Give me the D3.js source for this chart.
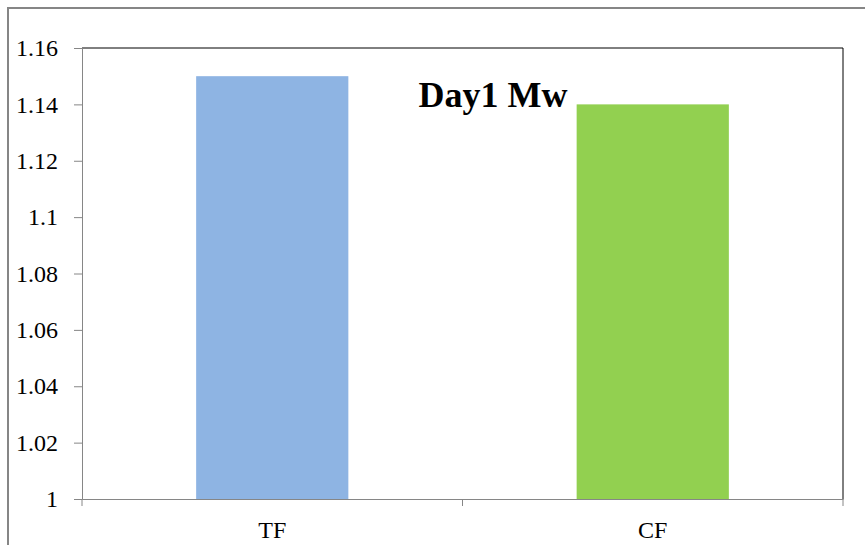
<!DOCTYPE html>
<html>
<head>
<meta charset="utf-8">
<script src="https://cdn.jsdelivr.net/npm/d3@7.9.0/dist/d3.min.js"></script>
<style>
  body { margin: 0; background: #fff; }
  svg text { font-family: "Liberation Serif", "Times New Roman", serif; }
</style>
</head>
<body>
<svg id="chart" width="865" height="545"></svg>
<script>
const categories = ['TF', 'CF'];
const values = [1.15, 1.14];
const barColors = ['#8EB4E3', '#92D050'];
const yTicks = [1, 1.02, 1.04, 1.06, 1.08, 1.1, 1.12, 1.14, 1.16];
const title = 'Day1 Mw';

const svg = d3.select('#chart');
const plotL = 82, plotR = 843, plotT = 48, plotB = 499;

// outer chart frame
svg.append('rect')
  .attr('x', 8).attr('y', 8)
  .attr('width', 870).attr('height', 560)
  .attr('fill', '#fff')
  .attr('stroke', '#868686')
  .attr('stroke-width', 2);

const x = d3.scaleBand().domain(categories).range([plotL, plotR]).paddingInner(0).paddingOuter(0);
const y = d3.scaleLinear().domain([1, 1.16]).range([plotB, plotT]);

// plot area border (top + right dark)
svg.append('path')
  .attr('d', `M${plotL},${plotT}H${plotR}V${plotB}`)
  .attr('fill', 'none')
  .attr('stroke', '#000')
  .attr('stroke-width', 1);

// bars
const barW = x.bandwidth() * 0.4;
svg.selectAll('rect.bar')
  .data(values)
  .join('rect')
  .attr('class', 'bar')
  .attr('x', (d, i) => x(categories[i]) + (x.bandwidth() - barW) / 2)
  .attr('y', d => y(d))
  .attr('width', barW)
  .attr('height', d => y(1) - y(d))
  .attr('fill', (d, i) => barColors[i]);

// y axis
const yAxis = svg.append('g')
  .attr('transform', `translate(${plotL},0)`)
  .call(d3.axisLeft(y).tickValues(yTicks).tickSize(8).tickPadding(16)
    .tickFormat(d => String(+d.toFixed(2))));
yAxis.select('.domain').attr('stroke', '#868686');
yAxis.selectAll('.tick line').attr('stroke', '#868686');
yAxis.selectAll('.tick text')
  .attr('font-size', 24)
  .attr('fill', '#000')
  .style('font-family', '"Liberation Serif", serif');

// x axis
const xAxis = svg.append('g')
  .attr('transform', `translate(0,${plotB})`)
  .call(d3.axisBottom(x).tickSize(0).tickPadding(22));
xAxis.select('.domain').attr('stroke', '#868686');
xAxis.selectAll('.tick text')
  .attr('font-size', 24)
  .attr('fill', '#000')
  .style('font-family', '"Liberation Serif", serif');

// category boundary ticks
const bounds = [plotL, ...categories.slice(1).map(c => x(c)), plotR];
svg.selectAll('line.xb')
  .data(bounds)
  .join('line')
  .attr('class', 'xb')
  .attr('x1', d => d).attr('x2', d => d)
  .attr('y1', plotB).attr('y2', plotB + 7)
  .attr('stroke', '#868686');

// title
svg.append('text')
  .attr('x', 493).attr('y', 107)
  .attr('text-anchor', 'middle')
  .attr('font-size', 36)
  .attr('font-weight', 'bold')
  .attr('fill', '#000')
  .text(title);
</script>
</body>
</html>
